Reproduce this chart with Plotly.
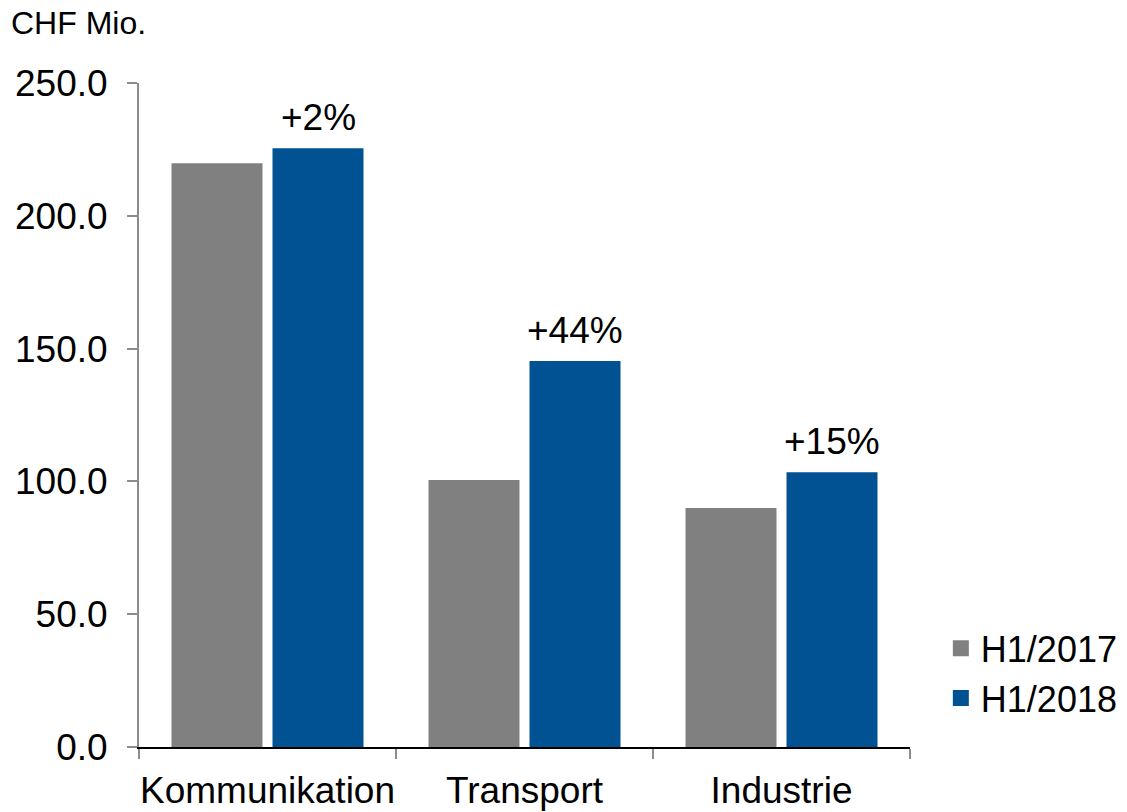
import plotly.graph_objects as go

# Umsatz nach Segment, CHF Mio.
segmente = ["Kommunikation", "Transport", "Industrie"]
h1_2017 = [219.8, 100.5, 90.0]
h1_2018 = [225.4, 145.3, 103.4]
wachstum = ["+2%", "+44%", "+15%"]

GRAU = "#808080"
BLAU = "#005293"
FONT = "Liberation Sans, Arial, sans-serif"

BARGAP = 0.214
PLOT_W = 1127 - 139 - 217
# horizontal offset of the second bar of each group from the category centre
slot_px = PLOT_W / len(segmente) * (1 - BARGAP) / 2
offset_2018 = slot_px / 2

fig = go.Figure()

fig.add_trace(go.Bar(
    x=segmente, y=h1_2017, name="H1/2017",
    marker=dict(color=GRAU, line=dict(width=0)),
    showlegend=False, legendgroup="2017",
))
fig.add_trace(go.Bar(
    x=segmente, y=h1_2018, name="H1/2018",
    marker=dict(color=BLAU, line=dict(width=0)),
    showlegend=False, legendgroup="2018",
))

# Legendeneinträge mit quadratischen Symbolen
for name, farbe, grp in [("H1/2017", GRAU, "2017"), ("H1/2018", BLAU, "2018")]:
    fig.add_trace(go.Scatter(
        x=[None], y=[None], mode="markers", name=name, legendgroup=grp,
        marker=dict(symbol="square", size=27, color=farbe),
    ))

# Wachstumsraten über den H1/2018-Balken
anmerkungen = [
    dict(x=seg, y=wert, xref="x", yref="y", text=txt,
         xshift=offset_2018, yanchor="bottom", yshift=8,
         showarrow=False, font=dict(size=37))
    for seg, wert, txt in zip(segmente, h1_2018, wachstum)
]
anmerkungen.append(dict(
    text="CHF Mio.", xref="paper", yref="paper",
    x=-139 / PLOT_W, xanchor="left", xshift=9,
    y=1.0, yanchor="middle", yshift=60,
    showarrow=False, font=dict(size=32),
))

fig.update_layout(
    width=1127, height=812,
    margin=dict(l=139, r=217, t=83, b=65, autoexpand=False),
    paper_bgcolor="white", plot_bgcolor="white",
    font=dict(family=FONT, size=37, color="black"),
    barmode="group", bargap=BARGAP, bargroupgap=0.099,
    legend=dict(
        x=1.04, xanchor="left", y=0.111, yanchor="middle",
        font=dict(size=36), itemsizing="trace", tracegroupgap=0,
        bgcolor="rgba(0,0,0,0)",
    ),
    annotations=anmerkungen,
)

fig.update_yaxes(
    range=[0, 250], dtick=50, tickformat=".1f",
    showgrid=False, zeroline=False, automargin=False,
    showline=True, linecolor="#8c8c8c", linewidth=2,
    ticks="outside", ticklen=10, tickcolor="#8c8c8c", tickwidth=2,
    ticklabelstandoff=12,
    tickfont=dict(size=37),
)
fig.update_xaxes(
    showgrid=False, automargin=False, tickangle=0,
    showline=True, linecolor="black", linewidth=2,
    ticks="outside", ticklen=10, tickcolor="#8c8c8c", tickwidth=2,
    tickson="boundaries", ticklabelstandoff=10,
    tickfont=dict(size=37),
)

fig.write_html("out.html")
